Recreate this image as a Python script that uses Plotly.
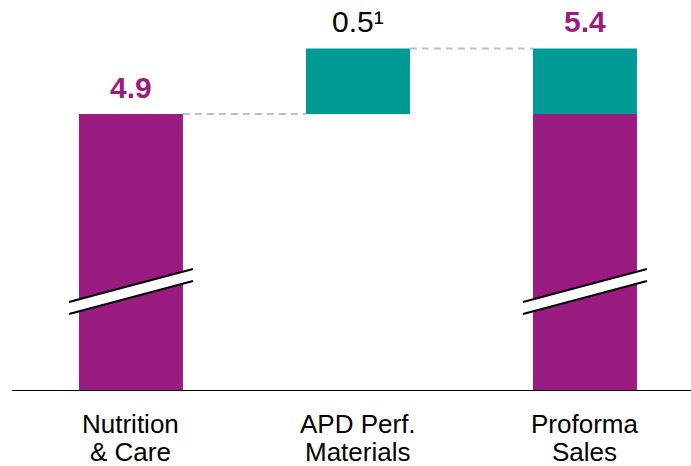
import plotly.graph_objects as go

# ---- data ----
categories = ["Nutrition & Care", "APD Perf. Materials", "Proforma Sales"]
label_line1 = ["Nutrition", "APD Perf.", "Proforma"]
label_line2 = ["& Care", "Materials", "Sales"]
nutrition_value = 4.9
apd_value = 0.5
proforma_value = 5.4
value_labels = ["4.9", "0.5¹", "5.4"]

PURPLE = "#9B1C80"
TEAL = "#009A94"
GREY = "#BFBFBF"
FONT = "Liberation Sans, Arial, sans-serif"

# axis scale (broken axis, does not start at zero)
y_lo, y_hi = 2.785, 5.77
x_lo, x_hi = -0.524, 2.467
bar_w = 0.458

fig = go.Figure()

# purple base bars (Nutrition & Care and its part of Proforma)
fig.add_trace(go.Bar(
    x=[0, 2], y=[nutrition_value - y_lo, nutrition_value - y_lo], base=y_lo,
    marker=dict(color=PURPLE, line=dict(width=0)), width=bar_w, hoverinfo="skip"))
# teal increments
fig.add_trace(go.Bar(
    x=[1, 2], y=[apd_value, apd_value], base=nutrition_value,
    marker=dict(color=TEAL, line=dict(width=0)), width=bar_w, hoverinfo="skip"))

shapes = []
# dashed connectors
shapes.append(dict(type="line", xref="x", yref="y",
                   x0=0 + bar_w / 2, x1=1 - bar_w / 2, y0=nutrition_value, y1=nutrition_value,
                   line=dict(color=GREY, width=2, dash="7px,5px")))
shapes.append(dict(type="line", xref="x", yref="y",
                   x0=1 + bar_w / 2, x1=2 - bar_w / 2, y0=proforma_value, y1=proforma_value,
                   line=dict(color=GREY, width=2, dash="7px,5px")))
# axis baseline
shapes.append(dict(type="line", xref="paper", yref="y", x0=0, x1=1, y0=y_lo, y1=y_lo,
                   line=dict(color="black", width=2)))

# break marks on purple bars
half = 0.273
yl_top, yr_top = 3.465, 3.717
gap = 0.092
for c in (0, 2):
    xa, xb = c - half, c + half
    path = (f"M {xa},{yl_top} L {xb},{yr_top} L {xb},{yr_top - gap} "
            f"L {xa},{yl_top - gap} Z")
    shapes.append(dict(type="path", xref="x", yref="y", path=path,
                       fillcolor="white", line=dict(width=0)))
    shapes.append(dict(type="line", xref="x", yref="y", x0=xa, x1=xb,
                       y0=yl_top, y1=yr_top, line=dict(color="black", width=2)))
    shapes.append(dict(type="line", xref="x", yref="y", x0=xa, x1=xb,
                       y0=yl_top - gap, y1=yr_top - gap, line=dict(color="black", width=2)))

annotations = []
tops = [nutrition_value, nutrition_value + apd_value, proforma_value]
for i, (txt, top) in enumerate(zip(value_labels, tops)):
    bold = i != 1
    annotations.append(dict(
        x=i, y=top, xref="x", yref="y", text=f"<b>{txt}</b>" if bold else txt,
        showarrow=False, yanchor="bottom", yshift=8,
        font=dict(family=FONT, size=30, color=PURPLE if bold else "black")))

for i in range(len(categories)):
    for line_txt, shift in ((label_line1[i], -16), (label_line2[i], -44)):
        annotations.append(dict(
            x=i, y=0, xref="x", yref="paper", text=line_txt, showarrow=False,
            yanchor="top", yshift=shift,
            font=dict(family=FONT, size=26, color="black")))

fig.update_layout(
    width=691, height=466,
    margin=dict(l=12, r=0, t=0, b=75),
    paper_bgcolor="white", plot_bgcolor="white",
    showlegend=False, barmode="overlay",
    xaxis=dict(range=[x_lo, x_hi], showticklabels=False, showgrid=False,
               zeroline=False, showline=False, ticks=""),
    yaxis=dict(range=[y_lo, y_hi], showticklabels=False, showgrid=False,
               zeroline=False, showline=False, ticks=""),
    shapes=shapes, annotations=annotations,
)

fig.write_html("out.html")
